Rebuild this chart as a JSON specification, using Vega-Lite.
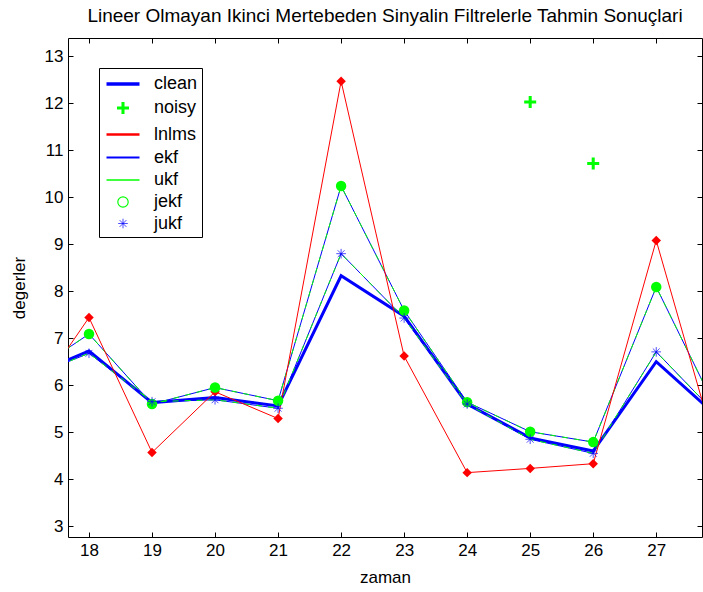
{
  "$schema": "https://vega.github.io/schema/vega-lite/v6.json",
  "width": 634,
  "height": 499,
  "autosize": {"type": "none"},
  "padding": {"left": 68, "top": 38, "right": 1, "bottom": 55},
  "title": {
    "text": "Lineer Olmayan Ikinci Mertebeden Sinyalin Filtrelerle Tahmin Sonuçlari",
    "fontSize": 19,
    "font": "Liberation Sans",
    "fontWeight": "normal",
    "color": "black",
    "anchor": "middle",
    "offset": 12
  },
  "config": {
    "view": {"stroke": "black", "strokeWidth": 1},
    "font": "Liberation Sans",
    "axis": {
      "domain": false,
      "grid": false,
      "tickColor": "black",
      "tickSize": -5,
      "labelFont": "Liberation Sans",
      "labelFontSize": 17,
      "labelColor": "black",
      "titleFont": "Liberation Sans",
      "titleFontSize": 17,
      "titleFontWeight": "normal",
      "titleColor": "black"
    }
  },
  "data": {
    "values": [
      {"zaman": 17, "deger": 6.16, "seri": "clean"},
      {"zaman": 18, "deger": 6.73, "seri": "clean"},
      {"zaman": 19, "deger": 5.63, "seri": "clean"},
      {"zaman": 20, "deger": 5.74, "seri": "clean"},
      {"zaman": 21, "deger": 5.56, "seri": "clean"},
      {"zaman": 22, "deger": 8.33, "seri": "clean"},
      {"zaman": 23, "deger": 7.47, "seri": "clean"},
      {"zaman": 24, "deger": 5.60, "seri": "clean"},
      {"zaman": 25, "deger": 4.88, "seri": "clean"},
      {"zaman": 26, "deger": 4.60, "seri": "clean"},
      {"zaman": 27, "deger": 6.50, "seri": "clean"},
      {"zaman": 28, "deger": 5.30, "seri": "clean"},
      {"zaman": 17, "deger": 5.49, "seri": "lnlms"},
      {"zaman": 18, "deger": 7.44, "seri": "lnlms"},
      {"zaman": 19, "deger": 4.57, "seri": "lnlms"},
      {"zaman": 20, "deger": 5.86, "seri": "lnlms"},
      {"zaman": 21, "deger": 5.29, "seri": "lnlms"},
      {"zaman": 22, "deger": 12.47, "seri": "lnlms"},
      {"zaman": 23, "deger": 6.62, "seri": "lnlms"},
      {"zaman": 24, "deger": 4.14, "seri": "lnlms"},
      {"zaman": 25, "deger": 4.23, "seri": "lnlms"},
      {"zaman": 26, "deger": 4.33, "seri": "lnlms"},
      {"zaman": 27, "deger": 9.08, "seri": "lnlms"},
      {"zaman": 28, "deger": 4.40, "seri": "lnlms"},
      {"zaman": 17, "deger": 6.19, "seri": "jekf"},
      {"zaman": 18, "deger": 7.09, "seri": "jekf"},
      {"zaman": 19, "deger": 5.60, "seri": "jekf"},
      {"zaman": 20, "deger": 5.95, "seri": "jekf"},
      {"zaman": 21, "deger": 5.67, "seri": "jekf"},
      {"zaman": 22, "deger": 10.24, "seri": "jekf"},
      {"zaman": 23, "deger": 7.59, "seri": "jekf"},
      {"zaman": 24, "deger": 5.64, "seri": "jekf"},
      {"zaman": 25, "deger": 5.01, "seri": "jekf"},
      {"zaman": 26, "deger": 4.79, "seri": "jekf"},
      {"zaman": 27, "deger": 8.09, "seri": "jekf"},
      {"zaman": 28, "deger": 5.36, "seri": "jekf"},
      {"zaman": 17, "deger": 6.14, "seri": "jukf"},
      {"zaman": 18, "deger": 6.68, "seri": "jukf"},
      {"zaman": 19, "deger": 5.65, "seri": "jukf"},
      {"zaman": 20, "deger": 5.69, "seri": "jukf"},
      {"zaman": 21, "deger": 5.51, "seri": "jukf"},
      {"zaman": 22, "deger": 8.80, "seri": "jukf"},
      {"zaman": 23, "deger": 7.43, "seri": "jukf"},
      {"zaman": 24, "deger": 5.60, "seri": "jukf"},
      {"zaman": 25, "deger": 4.85, "seri": "jukf"},
      {"zaman": 26, "deger": 4.55, "seri": "jukf"},
      {"zaman": 27, "deger": 6.71, "seri": "jukf"},
      {"zaman": 28, "deger": 5.32, "seri": "jukf"},
      {"zaman": 25, "deger": 12.03, "seri": "noisy"},
      {"zaman": 26, "deger": 10.72, "seri": "noisy"}
    ]
  },
  "resolve": {"axis": {"x": "independent", "y": "independent"}},
  "layer": [
    {
      "transform": [{"filter": "datum.seri == 'clean'"}],
      "mark": {"type": "line", "color": "#0000FF", "strokeWidth": 3, "clip": true},
      "encoding": {
        "x": {"field": "zaman", "type": "quantitative", "scale": {"domain": [17.667, 27.726], "nice": false, "zero": false},
              "axis": {"orient": "bottom", "values": [18, 19, 20, 21, 22, 23, 24, 25, 26, 27], "title": "zaman", "labelPadding": 10, "titlePadding": 11}},
        "y": {"field": "deger", "type": "quantitative", "scale": {"domain": [2.77, 13.39], "nice": false, "zero": false},
              "axis": {"orient": "left", "values": [3, 4, 5, 6, 7, 8, 9, 10, 11, 12, 13], "title": "degerler", "labelPadding": 10, "titlePadding": 16}}
      }
    },
    {
      "transform": [{"filter": "datum.seri == 'jekf' || datum.seri == 'jukf'"}],
      "mark": {"type": "line", "color": "#0000FF", "strokeWidth": 1, "clip": true},
      "encoding": {
        "x": {"field": "zaman", "type": "quantitative", "axis": {"orient": "top", "values": [18, 19, 20, 21, 22, 23, 24, 25, 26, 27], "labels": false, "title": null}},
        "y": {"field": "deger", "type": "quantitative", "axis": {"orient": "right", "values": [3, 4, 5, 6, 7, 8, 9, 10, 11, 12, 13], "labels": false, "title": null}},
        "detail": {"field": "seri"}
      }
    },
    {
      "transform": [{"filter": "datum.seri == 'jekf' || datum.seri == 'jukf'"}],
      "mark": {"type": "line", "color": "#00FF00", "strokeWidth": 1, "clip": true, "strokeDash": [6, 6]},
      "encoding": {
        "x": {"field": "zaman", "type": "quantitative", "axis": null},
        "y": {"field": "deger", "type": "quantitative", "axis": null},
        "detail": {"field": "seri"}
      }
    },
    {
      "transform": [{"filter": "datum.seri == 'lnlms'"}],
      "mark": {"type": "line", "color": "#FF0000", "strokeWidth": 1, "clip": true},
      "encoding": {
        "x": {"field": "zaman", "type": "quantitative", "axis": null},
        "y": {"field": "deger", "type": "quantitative", "axis": null}
      }
    },
    {
      "transform": [{"filter": "datum.seri == 'lnlms'"}],
      "mark": {"type": "point", "shape": "diamond", "filled": true, "color": "#FF0000", "size": 90, "opacity": 1, "clip": true},
      "encoding": {
        "x": {"field": "zaman", "type": "quantitative", "axis": null},
        "y": {"field": "deger", "type": "quantitative", "axis": null}
      }
    },
    {
      "transform": [{"filter": "datum.seri == 'jekf'"}],
      "mark": {"type": "point", "shape": "circle", "filled": true, "color": "#00FF00", "size": 110, "opacity": 1, "clip": true},
      "encoding": {
        "x": {"field": "zaman", "type": "quantitative", "axis": null},
        "y": {"field": "deger", "type": "quantitative", "axis": null}
      }
    },
    {
      "transform": [{"filter": "datum.seri == 'noisy' || datum.seri == 'jukf'"}],
      "mark": {"type": "point", "filled": false, "size": 400, "opacity": 1, "strokeWidth": 1, "clip": true},
      "encoding": {
        "x": {"field": "zaman", "type": "quantitative", "axis": null},
        "y": {"field": "deger", "type": "quantitative", "axis": null},
        "color": {
          "field": "seri", "type": "nominal",
          "scale": {"domain": ["clean", "noisy", "lnlms", "ekf", "ukf", "jekf", "jukf"],
                    "range": ["#0000FF", "#00FF00", "#FF0000", "#0000FF", "#00FF00", "#00FF00", "#0000FF"]},
          "legend": {
            "orient": "none", "legendX": 31, "legendY": 30, "title": null,
            "strokeColor": "black", "fillColor": "white", "padding": 4,
            "symbolSize": 400, "symbolOffset": 8, "labelFontSize": 18, "labelFont": "Liberation Sans", "labelColor": "black",
            "labelOffset": 19, "rowPadding": 2,
            "labelExpr": "datum.label + '\u00a0\u00a0\u00a0\u00a0\u00a0\u00a0\u00a0'"
          }
        },
        "shape": {
          "field": "seri", "type": "nominal",
          "scale": {"domain": ["clean", "noisy", "lnlms", "ekf", "ukf", "jekf", "jukf"],
                    "range": ["M-1.65,0L1.65,0", "M-0.6,0L0.6,0M0,-0.6L0,0.6", "M-1.65,0L1.65,0", "M-1.65,0L1.65,0", "M-1.65,0L1.65,0",
                              "M0.52,0A0.52,0.52 0 1,1 -0.52,0A0.52,0.52 0 1,1 0.52,0Z",
                              "M-0.48,0L0.48,0M0,-0.48L0,0.48M-0.34,-0.34L0.34,0.34M-0.34,0.34L0.34,-0.34"]}
        },
        "strokeWidth": {
          "field": "seri", "type": "nominal",
          "scale": {"domain": ["clean", "noisy", "lnlms", "ekf", "ukf", "jekf", "jukf"],
                    "range": [3.5, 0.7, 1, 1, 1, 1, 1]}
        }
      }
    }
  ]
}
